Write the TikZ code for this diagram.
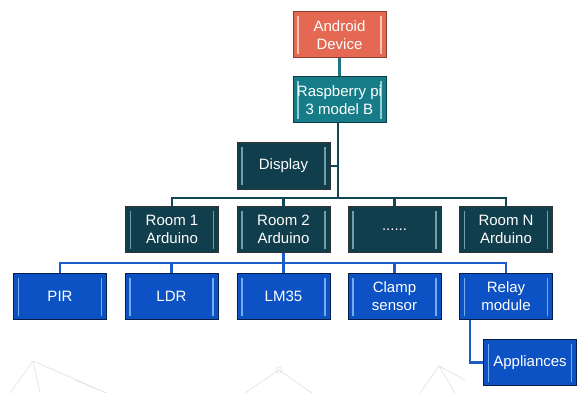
\documentclass[tikz,border=0pt]{standalone}
\usepackage{fontspec}
\usepackage{tikz}
\newfontfamily\boxfont{Liberation Sans}
\definecolor{phonefill}{RGB}{228,104,82}
\definecolor{phonestripe}{RGB}{250,196,182}
\definecolor{raspfill}{RGB}{22,125,136}
\definecolor{raspstripe}{RGB}{150,205,210}
\definecolor{darkfill}{RGB}{16,62,76}
\definecolor{darkstripe}{RGB}{110,160,172}
\definecolor{sensorfill}{RGB}{12,82,196}
\definecolor{sensorstripe}{RGB}{115,172,240}
\definecolor{trunkcol}{RGB}{16,70,86}
\definecolor{buscol}{RGB}{28,92,200}
\definecolor{linkcol}{RGB}{30,118,130}
\tikzset{
		>=stealth
	}

\begin{document}
\begin{tikzpicture}[x=1pt,y=-1pt,
    block/.style={draw=black!80, line width=1pt, minimum width=93pt, minimum height=46pt,
        inner sep=0pt, align=center, text=white, font=\boxfont\fontsize{15}{18}\selectfont,
        path picture={
            \draw[#1, line width=1.3pt]
                ([xshift=5pt,yshift=-4pt]path picture bounding box.north west) --
                ([xshift=5pt,yshift=4pt]path picture bounding box.south west);
            \draw[#1, line width=1.3pt]
                ([xshift=-5pt,yshift=-4pt]path picture bounding box.north east) --
                ([xshift=-5pt,yshift=4pt]path picture bounding box.south east);
        }},
    phone/.style={block=phonestripe, fill=phonefill, draw=phonefill!60!black},
    board/.style={block=raspstripe, fill=raspfill, draw=raspfill!50!black},
    unit/.style={block=darkstripe, fill=darkfill},
    sensor/.style={block=sensorstripe, fill=sensorfill, draw=sensorfill!35!black},
    trunk/.style={draw=trunkcol, line width=2.6pt},
    bus/.style={draw=buscol, line width=2.4pt}]

    \useasboundingbox (0,0) rectangle (578,393);

    % faint background pattern
    \begin{scope}[black!10, line width=0.8pt]
        \draw (33,361) -- (118,398) (33,361) -- (10,393) (33,361) -- (40,393)
              (118,398) -- (75,380);
        \draw (279,370) circle (3pt);
        \draw (279,370) -- (245,393) (279,370) -- (312,393);
        \draw (439,366) -- (420,393) (439,366) -- (455,393) (439,366) -- (465,380);
    \end{scope}

    % the boxes
    \node[phone] (phone) at (339.5,35) {Android\\Device};
    \node[board] (rasp) at (339.5,100) {Raspberry pi\\3 model B};
    \node[unit] (display) at (283.5,166) {Display};

    \node[unit] (room1) at (172,229.5) {Room 1\\Arduino};
    \node[unit] (room2) at (283.5,229.5) {Room 2\\Arduino};
    \node[unit] (dots) at (394.5,229.5) {......};
    \node[unit] (roomN) at (506,229.5) {Room N\\Arduino};

    \node[sensor] (pir) at (60,296.5) {PIR};
    \node[sensor] (ldr) at (171.5,296.5) {LDR};
    \node[sensor] (lm35) at (283.5,296.5) {LM35};
    \node[sensor] (clamp) at (394.5,296.5) {Clamp\\sensor};
    \node[sensor] (relay) at (506,296.5) {Relay\\module};
    \node[sensor] (appl) at (530,362.5) {Appliances};

    % the joints of the two buses
    \coordinate (tbus) at (338,198);
    \coordinate (sbus) at (283.5,263);

    % the connectors
    \draw[draw=linkcol, line width=2.6pt] (phone) -- (rasp);
    \draw[trunk] ([xshift=-1.5pt]rasp.south) -- (tbus);
    \draw[trunk] (display.east) -- (display.east -| tbus);
    \foreach \n in {room1,room2,dots,roomN}
        \draw[trunk] (\n.north) |- (tbus);
    \draw[bus] (room2.south) -- (sbus);
    \foreach \n in {pir,ldr,lm35,clamp,relay}
        \draw[bus] (\n.north) |- (sbus);
    \draw[bus] ([xshift=-36pt]relay.south) |- (appl.west);

\end{tikzpicture}
\end{document}
